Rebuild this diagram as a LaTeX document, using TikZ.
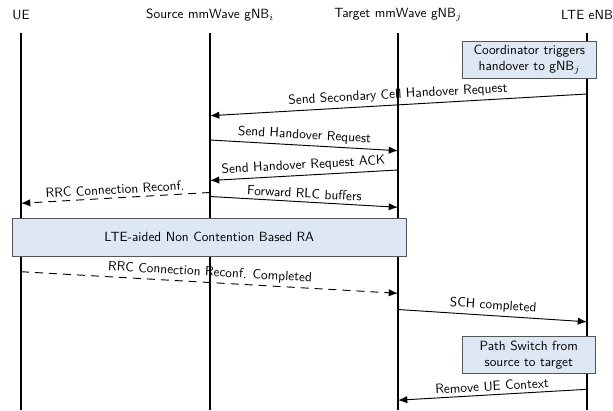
\documentclass[tikz,border=0pt]{standalone}
\usepackage{tikz}
\usetikzlibrary{arrows.meta,positioning,calc}
\usepackage{xcolor}
\definecolor{boxfill}{RGB}{221,232,244}
\definecolor{boxdraw}{RGB}{85,85,85}

\begin{document}
\begin{tikzpicture}[x=0.75pt,y=-0.75pt,font=\sffamily,
    lifeline/.style={line width=1.5pt},
    msg/.style={line width=0.7pt,-{Latex[length=7pt,width=5.5pt]}},
    dmsg/.style={msg,dash pattern=on 6pt off 4.5pt},
    lbl/.style={midway,above,sloped,inner sep=2.5pt},
    notebox/.style={fill=boxfill,draw=boxdraw,line width=0.6pt,align=center}]
    \useasboundingbox (0,0) rectangle (613,410);
    % lifelines
    \foreach \n/\x/\t in {ue/21/UE, src/210/Source mmWave gNB$_i$, tgt/398/Target mmWave gNB$_j$, lte/587/LTE eNB} {
      \node (\n) at (\x,15) {\t};
      \coordinate (\n-top) at (\x,33);
      \coordinate (\n-bot) at (\x,410);
      \draw[lifeline] (\n-top) -- (\n-bot);
    }
    % boxes
    \node[notebox,minimum width=133.3*0.75pt,minimum height=37*0.75pt,inner sep=1pt] (coord) at (529.3,59.7) {Coordinator triggers\\handover to gNB$_j$};
    \node[notebox,minimum width=393.3*0.75pt,minimum height=38.5*0.75pt] (ra) at (209.3,237.2) {LTE-aided Non Contention Based RA};
    \node[notebox,minimum width=132.3*0.75pt,minimum height=37.3*0.75pt,inner sep=1pt] (path) at (528.8,354.7) {Path Switch from\\source to target};
    % message end points
    \coordinate (m1a) at (587,94);    \coordinate (m1b) at (210,115.7);
    \coordinate (m2a) at (210,140);   \coordinate (m2b) at (398,150.7);
    \coordinate (m3a) at (398,170);   \coordinate (m3b) at (210,180.5);
    \coordinate (m4a) at (210,192.5); \coordinate (m4b) at (21,203.3);
    \coordinate (m5a) at (210,196.5); \coordinate (m5b) at (398,207.3);
    \coordinate (m6a) at (21,271.7);  \coordinate (m6b) at (398,293.3);
    \coordinate (m7a) at (398,309.5); \coordinate (m7b) at (587,321.8);
    \coordinate (m8a) at (587,389.3); \coordinate (m8b) at (398,400.2);
    \draw[msg] (m1a) -- node[lbl] {Send Secondary Cell Handover Request} (m1b);
    \draw[msg] (m2a) -- node[lbl] {Send Handover Request} (m2b);
    \draw[msg] (m3a) -- node[lbl] {Send Handover Request ACK} (m3b);
    \draw[dmsg] (m4a) -- node[lbl] {RRC Connection Reconf.} (m4b);
    \draw[msg] (m5a) -- node[lbl] {Forward RLC buffers} (m5b);
    \draw[dmsg] (m6a) -- node[lbl] {RRC Connection Reconf. Completed} (m6b);
    \draw[msg] (m7a) -- node[lbl] {SCH completed} (m7b);
    \draw[msg] (m8a) -- node[lbl] {Remove UE Context} (m8b);
\end{tikzpicture}
\end{document}
